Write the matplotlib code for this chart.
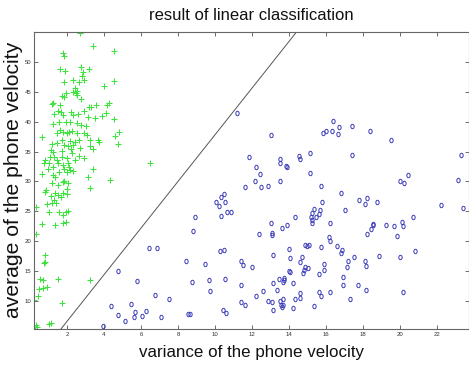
import numpy as np
import matplotlib
matplotlib.use("Agg")
import matplotlib.pyplot as plt
from matplotlib.path import Path

# ---------------- data ----------------
title_text = "result of linear classification"
xlabel_text = "variance of the phone velocity"
ylabel_text = "average of the phone velocity"

x_ticks = [2, 4, 6, 8, 10, 12, 14, 16, 18, 20, 22]
y_ticks = [10, 15, 20, 25, 30, 35, 40, 45, 50]

# decision boundary: y = slope * x + intercept
line_slope = 3.905
line_intercept = -1.235

green_x = [2.70, 3.39, 4.52, 1.80, 1.82, 2.76, 3.21, 1.62, 1.91, 2.88, 2.83, 4.56, 1.85, 2.31,
           2.65, 2.92, 4.00, 2.45, 2.52,
           1.73, 1.85, 1.95, 2.47, 2.52, 2.34, 1.26, 1.19, 1.62, 2.76, 3.17, 3.30, 3.57, 4.25,
           4.18, 1.53, 1.30, 1.66, 1.80, 2.20, 2.34, 2.61, 2.94, 3.15, 3.53, 3.88, 4.11, 4.56,
           1.26, 1.58, 1.95, 2.16, 2.52, 2.74, 3.01, 1.44, 1.62, 1.80, 2.02, 2.12, 2.25, 2.52,
           2.94, 3.06, 0.65, 1.75, 2.16, 2.66, 3.24, 3.69, 3.75, 4.83, 4.61, 4.77, 1.17, 1.48,
           1.84, 2.07, 2.43, 2.34, 1.12, 1.26, 1.73, 2.23, 2.70, 3.24, 3.42, 0.81, 1.08, 1.30,
           1.44, 1.71, 1.98, 2.25, 2.63, 2.90, 0.76, 1.04, 1.23, 1.53, 1.80, 2.07, 2.43, 0.65,
           0.99, 1.26, 1.35, 1.58, 1.84, 1.98, 2.12, 2.16, 2.34, 3.39, 3.15, 3.24, 4.32, 0.86,
           0.81, 1.12, 1.31, 1.41, 1.66, 1.80, 1.98, 2.05, 1.85, 1.53, 0.90, 1.19, 1.04, 1.58,
           1.77, 1.95, 2.07, 0.32,
           1.17, 1.80, 1.35, 1.53, 1.98, 0.66, 1.35, 1.77, 1.95, 0.32, 0.81, 0.83, 0.77, 0.54,
           0.69, 0.50, 0.45, 0.72, 0.90, 1.50, 3.24, 0.23, 1.71, 0.31, 0.39, 0.27, 1.12, 1.04,
           6.49]
green_y = [54.90, 52.68, 51.84, 51.46, 51.00, 49.21, 48.78, 48.78, 48.49, 48.33, 47.66, 46.87,
           46.60, 46.99, 46.70, 46.99, 45.98, 45.65, 45.15,
           44.31, 44.19, 44.86, 44.86, 44.48, 45.03, 43.19, 42.97, 42.75, 43.86, 42.42, 42.42,
           42.75, 43.09, 42.80, 41.85, 41.25, 41.58, 41.13, 41.63, 41.13, 41.25, 41.80, 40.85,
           40.68, 40.96, 41.46, 40.51, 39.62, 40.01, 39.91, 40.01, 39.84, 39.46, 39.29, 38.17,
           38.62, 38.33, 38.07, 38.23, 38.50, 38.17, 38.17, 37.78, 37.40, 36.95, 36.83, 36.95,
           36.95, 36.95, 36.66, 38.23, 37.62, 36.28, 36.28, 36.49, 36.11, 35.95, 36.66, 36.11,
           35.27, 34.94, 35.15, 35.39, 35.56, 35.99, 35.39, 33.60, 34.15, 34.15, 33.60, 34.15,
           33.88, 34.82, 34.27, 33.88, 33.15, 33.05, 32.48, 33.15, 32.76, 33.15, 33.60, 31.26,
           32.04, 31.09, 30.70, 31.64, 32.04, 31.64, 32.38, 31.92, 31.81, 32.14, 30.70, 28.86,
           30.25, 28.58, 28.29, 27.57, 26.90, 26.45, 27.46, 28.03, 28.69, 29.70, 30.13, 29.41,
           26.23, 26.45, 24.95, 24.95, 24.39, 24.84, 25.11, 25.68,
           29.80, 29.97, 28.03, 27.66, 27.91, 22.89, 22.72, 23.10, 23.27, 21.16, 17.70, 16.58,
           16.41, 13.63, 13.51, 11.96, 10.84, 12.13, 12.39, 13.63, 13.51, 10.17, 9.62, 5.98,
           5.70, 5.26, 6.37, 6.10,
           33.05]

blue_x = [11.17, 11.82, 11.64, 10.49, 10.32, 10.05, 10.20, 10.52, 10.32, 10.66, 10.85, 8.90,
          8.83, 6.45, 6.86, 10.27, 10.49, 8.43, 9.46, 11.41, 11.53, 8.77, 9.66, 10.56, 9.71,
          11.42, 6.76, 7.51, 11.41, 11.62, 10.45, 10.58, 8.56, 8.66, 6.05, 6.29, 7.08, 4.74,
          5.78, 5.44, 4.38, 4.74, 5.66, 5.62, 5.15, 3.93,
          16.38, 17.41, 13.04, 15.82, 16.00, 16.32, 16.69, 16.63, 17.42, 14.56, 14.58, 15.14,
          13.51, 13.51, 13.84, 13.88, 12.22, 12.45, 15.15, 12.16, 12.47, 12.85, 13.53, 15.73,
          16.83, 17.80, 15.77, 17.03, 15.34, 15.26, 15.21, 15.26, 15.23, 15.48, 15.64, 15.66,
          14.32, 16.22, 13.03, 13.88, 13.64, 12.38, 13.06, 13.10, 16.16, 16.22, 14.85, 14.99,
          15.10, 15.73, 16.59, 16.86, 16.83, 17.53, 17.21, 14.02, 13.15, 14.07, 14.70, 14.59,
          15.89, 17.12, 11.98, 14.86, 15.01, 14.79, 14.74, 14.02, 14.07, 15.88, 15.64, 16.90,
          13.46, 13.71, 13.68, 13.75, 13.14, 14.20, 16.90, 17.75, 13.37, 12.59, 12.22, 15.64,
          15.71, 16.23, 14.59, 14.58, 14.34, 13.66, 13.51, 13.55, 13.64, 13.69, 12.85, 13.10,
          17.30, 13.14, 14.23, 15.37,
          18.39, 19.50, 23.31, 20.42, 20.00, 20.20, 23.12, 18.09, 18.20, 18.74, 22.20, 23.42,
          20.69, 20.11, 20.15, 18.56, 18.52, 18.45, 18.22, 19.26, 19.69, 19.85, 18.11, 18.18,
          18.86, 20.00, 20.81, 18.16, 20.15]
blue_y = [41.51, 34.05, 29.13, 27.91, 27.36, 26.62, 25.90, 26.62, 24.28, 24.95, 24.85, 24.00,
          21.67, 18.82, 18.87, 18.42, 18.54, 16.74, 16.24, 16.69, 15.97, 13.23, 13.51, 13.73,
          11.67, 12.73, 11.00, 10.38, 9.78, 9.33, 8.49, 7.99, 7.82, 7.87, 7.54, 8.33, 7.27,
          15.07, 13.35, 9.55, 9.11, 7.61, 8.16, 7.27, 6.60, 5.82,
          40.13, 39.24, 37.83, 38.17, 38.40, 38.45, 39.07, 37.90, 34.43, 34.27, 33.72, 34.77,
          33.77, 33.15, 32.59, 32.48, 32.38, 31.21, 31.42, 30.08, 29.03, 29.30, 30.08, 29.30,
          28.03, 26.90, 26.57, 25.28, 25.35, 24.68, 24.01, 23.56, 23.05, 24.11, 24.51, 25.28,
          24.01, 23.05, 23.05, 22.67, 22.17, 21.26, 21.43, 21.00, 20.66, 20.04, 19.42, 19.20,
          19.32, 19.09, 19.26, 18.49, 18.08, 17.36, 16.69, 18.65, 17.75, 17.20, 17.36, 16.58,
          16.19, 15.64, 15.64, 15.74, 15.52, 15.24, 14.64, 14.97, 14.80, 15.14, 14.47, 14.02,
          13.63, 13.85, 13.23, 13.46, 12.96, 12.96, 12.68, 12.63, 11.79, 11.62, 10.84, 11.56,
          10.84, 11.56, 11.29, 10.50, 10.38, 10.28, 10.05, 9.33, 9.05, 9.38, 10.00, 9.83,
          10.33, 8.44, 8.83, 9.21,
          38.45, 37.00, 34.38, 31.04, 30.13, 29.70, 30.25, 26.18, 27.24, 26.52, 26.07, 25.56,
          24.01, 23.27, 22.60, 22.89, 22.67, 22.05, 21.26, 22.67, 22.60, 20.88, 16.64, 15.86,
          17.58, 17.41, 18.37, 11.84, 11.46]

# ---------------- style ----------------
font = "Liberation Sans"

W, H = 469, 369
fig = plt.figure(figsize=(W / 100, H / 100), dpi=100)
fig.patch.set_facecolor("white")
ax = fig.add_axes([34 / W, 1 - 329 / H, (468.5 - 34) / W, (329 - 32) / H])

# ellipse marker (circles appear slightly tall)
t = np.linspace(0, 2 * np.pi, 40)
ell = Path(np.column_stack([0.75 * np.cos(t), np.sin(t)]))

ax.plot(green_x, green_y, linestyle="none", marker="+", ms=3.8, mew=0.75,
        color="#3ee23e")
ax.plot(blue_x, blue_y, linestyle="none", marker=ell, ms=3.2, mew=0.7,
        mfc="none", mec="#3a3ab8")

xlim = (0.22, 23.7)
ylim = (5.31, 55.02)
lx = np.array(xlim)
ax.plot(lx, line_slope * lx + line_intercept, color="#555555", lw=0.7)

ax.set_xlim(*xlim)
ax.set_ylim(*ylim)
ax.set_xticks(x_ticks)
ax.set_yticks(y_ticks)
ax.set_xticklabels([str(v) for v in x_ticks])
ax.set_yticklabels([str(v) for v in y_ticks])
ax.tick_params(direction="in", length=3.2, width=0.6, color="#555555",
               top=True, right=True, labelsize=4.3, labelcolor="#333333", pad=2.0)
for lab in ax.get_xticklabels() + ax.get_yticklabels():
    lab.set_family(font)
for s in ax.spines.values():
    s.set_color("#666666")
    s.set_linewidth(0.8)

fig.text(251.5 / W, 1 - 16 / H, title_text, ha="center", va="center",
         fontsize=12, family=font, color="#111111")
fig.text(251.5 / W, 1 - 352 / H, xlabel_text, ha="center", va="center",
         fontsize=12.2, family=font, color="#111111")
fig.text(13.5 / W, 1 - 180 / H, ylabel_text, ha="center", va="center",
         rotation=90, fontsize=15.2, family=font, color="#111111")

fig.savefig("out.png", dpi=100, facecolor="white")
